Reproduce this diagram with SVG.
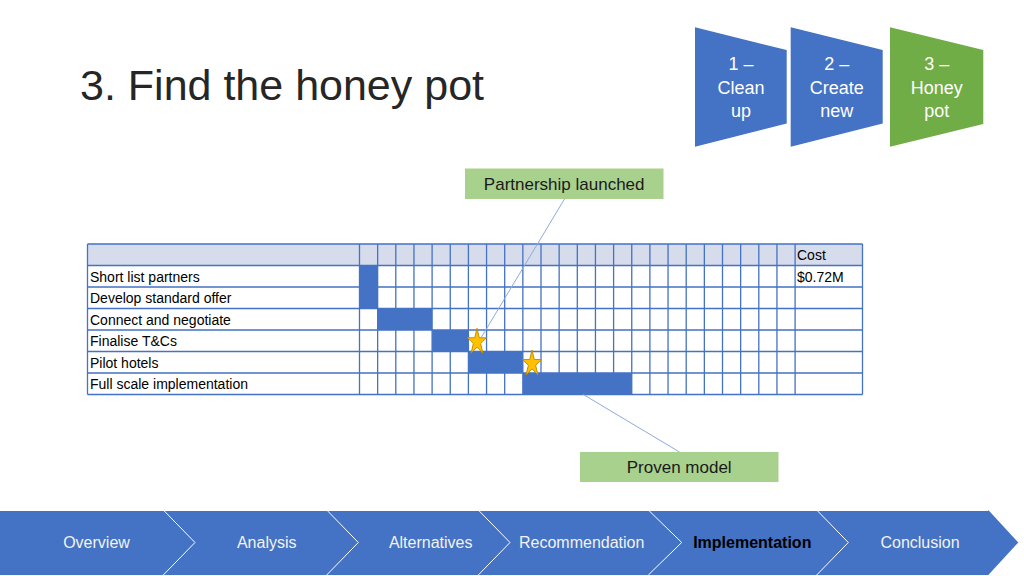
<svg xmlns="http://www.w3.org/2000/svg" xmlns:xlink="http://www.w3.org/1999/xlink" width="1024" height="576" viewBox="0 0 1024 576">
  <style>
    text { font-family: "Liberation Sans", Arial, sans-serif; }
    .title { font-size: 43px; fill: #262626; }
    .phase { font-size: 18px; fill: #ffffff; text-anchor: middle; }
    .cell { font-size: 14px; fill: #000000; }
    .callout { font-size: 17px; fill: #1a1a1a; text-anchor: middle; }
    .nav { font-size: 16px; fill: #f2f2f2; text-anchor: middle; }
    .nav-active { font-size: 16px; fill: #000000; font-weight: bold; text-anchor: middle; }
    .grid { fill: none; stroke: #4472C4; stroke-width: 1.3; }
    .bar { fill: #4472C4; }
    .blue { fill: #4472C4; }
    .green { fill: #70AD47; }
    .box { fill: #A9D18E; }
    .lead { stroke: #8FAADC; stroke-width: 1; fill: none; }
    .seam { stroke: #ffffff; stroke-width: 1; fill: none; }
    .star { fill: #FFC000; stroke: #C49000; stroke-width: 1; }
  </style>
  <defs>
    <path id="star" d="M0,-13.7 L2.25,-4.23 L9.51,-4.23 L3.63,1.62 L5.88,11.08 L0,5.23 L-5.88,11.08 L-3.63,1.62 L-9.51,-4.23 L-2.25,-4.23 Z"/>
  </defs>

  <rect width="1024" height="576" fill="#ffffff"/>

  <g id="title">
    <text class="title" x="80" y="100">3. Find the honey pot</text>
  </g>

  <g id="phase-1">
    <polygon class="blue" points="695,27.3 786.7,50 786.7,123.5 695,146.7"/>
    <text class="phase" x="741" y="70">1 –</text>
    <text class="phase" x="741" y="94">Clean</text>
    <text class="phase" x="741" y="117">up</text>
  </g>
  <g id="phase-2">
    <polygon class="blue" points="790.7,27.3 882.7,50 882.7,123.5 790.7,146.7"/>
    <text class="phase" x="836.7" y="70">2 –</text>
    <text class="phase" x="836.7" y="94">Create</text>
    <text class="phase" x="836.7" y="117">new</text>
  </g>
  <g id="phase-3">
    <polygon class="green" points="890,27.3 983.3,50 983.3,124 890,146.7"/>
    <text class="phase" x="936.7" y="70">3 –</text>
    <text class="phase" x="936.7" y="94">Honey</text>
    <text class="phase" x="936.7" y="117">pot</text>
  </g>

  <g id="gantt">
    <rect x="87.5" y="244" width="775" height="150.5" fill="#ffffff"/>
    <rect x="87.5" y="244" width="775" height="21.5" fill="#D6DCEC"/>
    <path class="grid" d="M87.5 244H862.5M87.5 265.5H862.5M87.5 287H862.5M87.5 308.5H862.5M87.5 330H862.5M87.5 351.5H862.5M87.5 373H862.5M87.5 394.5H862.5
      M87.5 244V394.5M359.5 244V394.5M377.65 244V394.5M395.8 244V394.5M413.95 244V394.5M432.1 244V394.5M450.25 244V394.5M468.4 244V394.5M486.55 244V394.5M504.7 244V394.5M522.85 244V394.5M541 244V394.5M559.15 244V394.5M577.3 244V394.5M595.45 244V394.5M613.6 244V394.5M631.75 244V394.5M649.9 244V394.5M668.05 244V394.5M686.2 244V394.5M704.35 244V394.5M722.5 244V394.5M740.65 244V394.5M758.8 244V394.5M776.95 244V394.5M795.1 244V394.5M862.5 244V394.5"/>
    <rect class="bar" x="359.5" y="265.5" width="18.15" height="43"/>
    <rect class="bar" x="377.65" y="308.5" width="54.45" height="21.5"/>
    <rect class="bar" x="432.1" y="330" width="36.3" height="21.5"/>
    <rect class="bar" x="468.4" y="351.5" width="54.45" height="21.5"/>
    <rect class="bar" x="522.85" y="373" width="108.9" height="21.5"/>
    <text class="cell" x="90" y="281.5">Short list partners</text>
    <text class="cell" x="90" y="303">Develop standard offer</text>
    <text class="cell" x="90" y="324.5">Connect and negotiate</text>
    <text class="cell" x="90" y="346">Finalise T&amp;Cs</text>
    <text class="cell" x="90" y="367.5">Pilot hotels</text>
    <text class="cell" x="90" y="389">Full scale implementation</text>
    <text class="cell" x="797" y="260">Cost</text>
    <text class="cell" x="797" y="281.5">$0.72M</text>
  </g>

  <g id="connectors">
    <line class="lead" x1="564.5" y1="199" x2="481.5" y2="337"/>
    <line class="lead" x1="583.3" y1="394.5" x2="679.5" y2="452"/>
  </g>

  <g id="milestone-1">
    <use xlink:href="#star" class="star" transform="translate(477,342)"/>
  </g>
  <g id="milestone-2">
    <use xlink:href="#star" class="star" transform="translate(532,363.7)"/>
  </g>

  <g id="callout-partnership">
    <rect class="box" x="465" y="168.5" width="198.5" height="30.5"/>
    <text class="callout" x="564.2" y="190">Partnership launched</text>
  </g>
  <g id="callout-proven">
    <rect class="box" x="580" y="452" width="198.5" height="30"/>
    <text class="callout" x="679.2" y="473">Proven model</text>
  </g>

  <g id="nav-bar">
    <polygon class="blue" points="0,510 988.3,510 1018.3,542.5 988.3,575 0,575"/>
    <path class="seam" d="M0 510.5H988.3M163.3 510L195 542.5L163.3 575M326.7 510L358.3 542.5L326.7 575M478.3 510L510 542.5L478.3 575M648.3 510L681.7 542.5L648.3 575M816.7 510L848.3 542.5L816.7 575"/>
    <text class="nav" x="96.5" y="547.5">Overview</text>
    <text class="nav" x="266.7" y="547.5">Analysis</text>
    <text class="nav" x="430.7" y="547.5">Alternatives</text>
    <text class="nav" x="581.7" y="547.5">Recommendation</text>
    <text class="nav-active" x="752.3" y="547.5">Implementation</text>
    <text class="nav" x="920" y="547.5">Conclusion</text>
  </g>
</svg>
